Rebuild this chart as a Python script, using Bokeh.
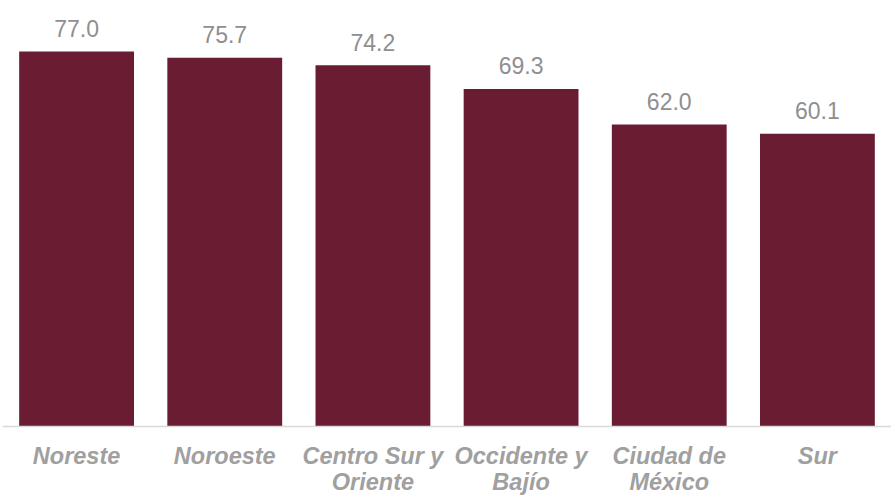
from bokeh.plotting import figure
from bokeh.models import ColumnDataSource, FactorRange, Range1d, Span
from bokeh.core.properties import value
from bokeh.embed import file_html
from bokeh.resources import INLINE

regions = ["Noreste", "Noroeste", "Centro Sur y\nOriente", "Occidente y\nBajío", "Ciudad de\nMéxico", "Sur"]
values = [77.0, 75.7, 74.2, 69.3, 62.0, 60.1]
value_labels = [f"{v:.1f}" for v in values]

src = ColumnDataSource(dict(x=regions, top=values, lbl=value_labels, zero=[0] * len(regions)))

p = figure(width=891, height=497, x_range=FactorRange(*regions, range_padding=0),
           y_range=Range1d(-14.58, 87.47), output_backend="svg", toolbar_location=None,
           min_border=0, min_border_left=2, min_border_right=0, min_border_top=0, min_border_bottom=0)

p.vbar(x="x", top="top", bottom=0, width=0.775, source=src, fill_color="#6A1C32", line_color=None)

p.text(x="x", y="top", text="lbl", source=src, text_align="center", text_baseline="alphabetic",
       y_offset=-23, text_font=value("Liberation Sans"), text_font_size="23px", text_color="#8F8F8F")

p.text(x="x", y="zero", text="x", source=src, text_align="center", text_baseline="top",
       y_offset=17, text_font=value("Liberation Sans"), text_font_size="23.5px",
       text_font_style="bold italic", text_color="#A0A0A0", text_line_height=1.0)

p.add_layout(Span(location=0, dimension="width", line_color="#D9D9D9", line_width=1.5))

p.xaxis.visible = False
p.yaxis.visible = False
p.xgrid.visible = False
p.ygrid.visible = False
p.outline_line_color = None
p.background_fill_color = "white"
p.border_fill_color = "white"

open("out.html", "w").write(file_html(p, INLINE))
